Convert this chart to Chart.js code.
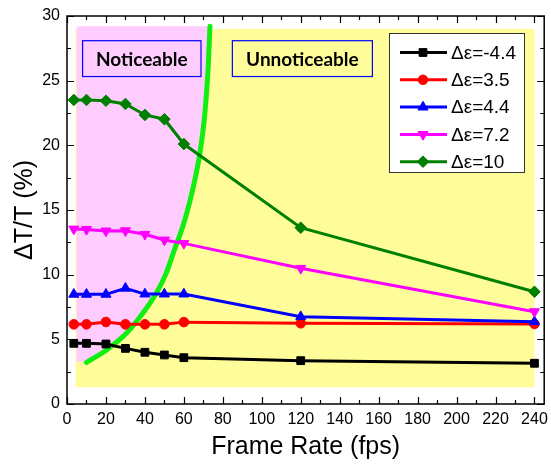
<!DOCTYPE html>
<html><head><meta charset="utf-8">
<script src="https://cdn.jsdelivr.net/npm/chart.js@4.4.0/dist/chart.umd.min.js"></script>
<style>html,body{margin:0;padding:0;background:#fff;}</style>
</head><body>
<canvas id="c" width="551" height="466" style="width:551px;height:466px;display:block"></canvas>
<script>
// ---- data ----
const frameRates = [3.5, 10, 20, 30, 40, 50, 60, 120, 240];
const seriesLabels = ['Δε=-4.4', 'Δε=3.5', 'Δε=4.4', 'Δε=7.2', 'Δε=10'];
const dEpsNeg44 = [4.69, 4.69, 4.64, 4.30, 4.00, 3.79, 3.58, 3.35, 3.15];
const dEps35 = [6.16, 6.16, 6.34, 6.16, 6.16, 6.16, 6.33, 6.24, 6.19];
const dEps44 = [8.48, 8.48, 8.48, 8.95, 8.50, 8.50, 8.50, 6.75, 6.36];
const dEps72 = [13.53, 13.50, 13.38, 13.40, 13.12, 12.68, 12.42, 10.49, 7.14];
const dEps10 = [23.51, 23.51, 23.45, 23.20, 22.35, 22.02, 20.10, 13.63, 8.68];
// visibility boundary curve
const boundaryX = [10.05, 20.3, 30.5, 38.9, 45.8, 50.9, 55.1, 59.4, 62.8, 65.3, 67.9, 70.8, 72.5, 73.4];
const boundaryY = [3.22, 4.18, 5.47, 7.01, 8.56, 10.1, 11.9, 13.7, 15.5, 17.1, 19.1, 22.5, 26.1, 29.2];
// shaded regions (data units): [xStart, xEnd, yBottom, yTop]
const unnoticeableRegion = [4.4, 240, 1.29, 29.0];
const noticeableRegion = [4.95, null, 3.27, 29.2];
const regionLabels = ['Noticeable', 'Unnoticeable'];
const regionLabelXRange = [[8.0, 68.8], [84.9, 156.8]];
const regionLabelYRange = [25.32, 28.09];
// ticks
const xTickValues = [0, 20, 40, 60, 80, 100, 120, 140, 160, 180, 200, 220, 240];
const xMinorTicks = [10, 30, 50, 70, 90, 110, 130, 150, 170, 190, 210, 230];
const yTickValues = [0, 5, 10, 15, 20, 25, 30];
const yMinorTicks = [2.5, 7.5, 12.5, 17.5, 22.5, 27.5];

// ---- styles ----
const seriesValues = [dEpsNeg44, dEps35, dEps44, dEps72, dEps10];
const seriesColors = ['#000000', '#FF0000', '#0000FF', '#FF00FF', '#008000'];
const seriesMarkers = ['rect', 'circle', 'triangle', 'triangle', 'rectRot'];
const seriesRotations = [0, 0, 0, 180, 0];
const seriesRadius = [5.5, 4.8, 5.8, 5.8, 5.8];
const FONT = "'Liberation Sans', Arial, sans-serif";
Chart.defaults.font.family = FONT;
Chart.defaults.color = '#000';

const datasets = seriesValues.map((vals, i) => ({
  label: seriesLabels[i],
  data: frameRates.map((x, j) => ({x: x, y: vals[j]})),
  borderColor: seriesColors[i],
  backgroundColor: seriesColors[i],
  pointBackgroundColor: seriesColors[i],
  pointBorderColor: seriesColors[i],
  borderWidth: 3,
  pointStyle: seriesMarkers[i],
  pointRotation: seriesRotations[i],
  pointRadius: seriesRadius[i],
  pointBorderWidth: 1,
  tension: 0,
  order: 5 - i
}));
datasets.push({
  label: 'boundary',
  data: boundaryX.map((x, j) => ({x: x, y: boundaryY[j]})),
  borderColor: '#11EE11',
  borderWidth: 5,
  pointRadius: 0,
  cubicInterpolationMode: 'monotone',
  borderCapStyle: 'round',
  order: 100
});

function drawMarker(ctx, style, radius, rotation, x, y) {
  if (Chart.helpers && Chart.helpers.drawPoint) {
    Chart.helpers.drawPoint(ctx, {pointStyle: style, radius: radius, rotation: rotation, borderWidth: 1}, x, y);
    return;
  }
  ctx.beginPath(); ctx.arc(x, y, radius, 0, Math.PI * 2); ctx.fill(); ctx.stroke();
}

const decorPlugin = {
  id: 'decor',
  beforeDatasetsDraw(chart) {
    const {ctx, scales: {x, y}} = chart;
    ctx.save();
    // yellow region
    const r = unnoticeableRegion;
    ctx.fillStyle = '#FFFD99';
    ctx.fillRect(x.getPixelForValue(r[0]), y.getPixelForValue(r[3]),
      x.getPixelForValue(r[1]) - x.getPixelForValue(r[0]), y.getPixelForValue(r[2]) - y.getPixelForValue(r[3]));
    // pink region, bounded by the boundary curve
    const n = noticeableRegion;
    ctx.fillStyle = '#FFCCFF';
    ctx.beginPath();
    ctx.moveTo(x.getPixelForValue(n[0]), y.getPixelForValue(n[3]));
    ctx.lineTo(x.getPixelForValue(n[0]), y.getPixelForValue(n[2]));
    const meta = chart.getDatasetMeta(datasets.length - 1);
    ctx.lineTo(meta.data[0].x, y.getPixelForValue(n[2]));
    meta.data.forEach(p => ctx.lineTo(p.x, p.y));
    ctx.lineTo(meta.data[meta.data.length - 1].x, y.getPixelForValue(n[3]));
    ctx.closePath();
    ctx.fill();
    // region labels
    const fills = ['#FFCCFF', '#FFFD99'];
    regionLabels.forEach((t, i) => {
      const x0 = x.getPixelForValue(regionLabelXRange[i][0]);
      const x1 = x.getPixelForValue(regionLabelXRange[i][1]);
      const y0 = y.getPixelForValue(regionLabelYRange[1]);
      const y1 = y.getPixelForValue(regionLabelYRange[0]);
      ctx.fillStyle = fills[i];
      ctx.fillRect(x0, y0, x1 - x0, y1 - y0);
      ctx.strokeStyle = '#0000FF';
      ctx.lineWidth = 1.2;
      ctx.strokeRect(x0, y0, x1 - x0, y1 - y0);
      ctx.fillStyle = '#000';
      ctx.font = "bold 19px Lato, 'Open Sans', sans-serif";
      ctx.textAlign = 'center';
      ctx.textBaseline = 'middle';
      ctx.fillText(t, (x0 + x1) / 2, (y0 + y1) / 2 + 1);
    });
    ctx.restore();
  },
  afterDatasetsDraw(chart) {
    const {ctx, chartArea: a, scales: {x, y}} = chart;
    ctx.save();
    ctx.strokeStyle = '#000';
    ctx.lineWidth = 1.5;
    ctx.strokeRect(a.left, a.top, a.right - a.left, a.bottom - a.top);
    ctx.lineWidth = 1.2;
    const xt = (v, len) => {
      const px = Math.round(x.getPixelForValue(v)) + 0.5;
      ctx.beginPath();
      ctx.moveTo(px, a.bottom); ctx.lineTo(px, a.bottom - len);
      ctx.moveTo(px, a.top); ctx.lineTo(px, a.top + len);
      ctx.stroke();
    };
    const yt = (v, len) => {
      const py = Math.round(y.getPixelForValue(v)) + 0.5;
      ctx.beginPath();
      ctx.moveTo(a.left, py); ctx.lineTo(a.left + len, py);
      ctx.moveTo(a.right, py); ctx.lineTo(a.right - len, py);
      ctx.stroke();
    };
    xTickValues.forEach(v => xt(v, 7));
    xMinorTicks.forEach(v => xt(v, 4));
    yTickValues.forEach(v => yt(v, 7));
    yMinorTicks.forEach(v => yt(v, 4));
    // legend
    const lx = 389.5, ly = 33.5, lw = 135, lh = 139;
    ctx.fillStyle = '#FFFFFF';
    ctx.fillRect(lx, ly, lw, lh);
    ctx.strokeStyle = '#333';
    ctx.lineWidth = 1;
    ctx.strokeRect(lx, ly, lw, lh);
    seriesLabels.forEach((t, i) => {
      const ry = 52.5 + i * 27.3;
      ctx.strokeStyle = seriesColors[i];
      ctx.fillStyle = seriesColors[i];
      ctx.lineWidth = 3;
      ctx.beginPath(); ctx.moveTo(400, ry); ctx.lineTo(447, ry); ctx.stroke();
      ctx.lineWidth = 1;
      drawMarker(ctx, seriesMarkers[i], seriesRadius[i], seriesRotations[i], 423, ry);
      ctx.fillStyle = '#000';
      ctx.font = "19px " + FONT;
      ctx.textAlign = 'left';
      ctx.textBaseline = 'middle';
      ctx.fillText(t, 451, ry + 1);
    });
    ctx.restore();
  }
};

new Chart(document.getElementById('c'), {
  type: 'line',
  data: {datasets: datasets},
  options: {
    responsive: false,
    devicePixelRatio: 1,
    animation: false,
    layout: {padding: {top: 16, right: 4, left: 0, bottom: 0}},
    plugins: {legend: {display: false}, tooltip: {enabled: false}},
    scales: {
      x: {
        type: 'linear', min: 0, max: 245,
        afterBuildTicks: s => { s.ticks = xTickValues.map(v => ({value: v})); },
        ticks: {font: {size: 16}, color: '#000', padding: 6, maxRotation: 0, autoSkip: false},
        grid: {display: false, drawTicks: false},
        border: {display: false},
        title: {display: true, text: 'Frame Rate (fps)', font: {size: 25}, color: '#000', padding: {top: 0, bottom: 4}},
        afterFit: s => { s.height = 62; s.paddingLeft = 0; s.paddingRight = 0; }
      },
      y: {
        type: 'linear', min: 0, max: 30,
        afterBuildTicks: s => { s.ticks = yTickValues.map(v => ({value: v})); },
        ticks: {font: {size: 16}, color: '#000', padding: 7, autoSkip: false},
        grid: {display: false, drawTicks: false},
        border: {display: false},
        title: {display: true, text: 'ΔT/T (%)', font: {size: 25}, color: '#000', padding: {top: 10, bottom: 0}},
        afterFit: s => { s.width = 67; s.paddingTop = 0; s.paddingBottom = 0; }
      }
    }
  },
  plugins: [decorPlugin]
});
</script>
</body></html>
